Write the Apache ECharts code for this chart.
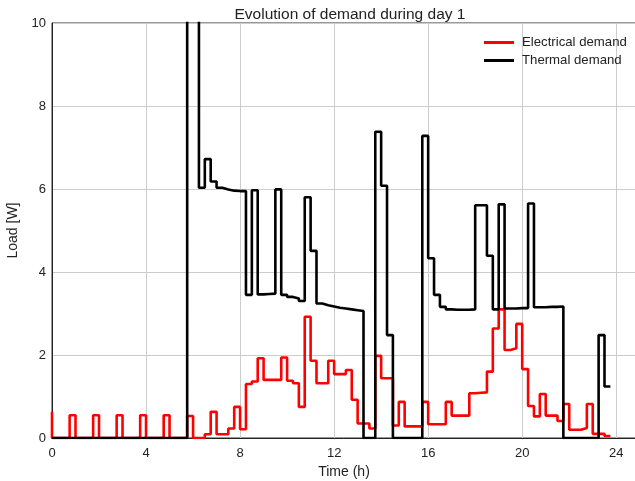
<!DOCTYPE html>
<html>
<head>
<meta charset="utf-8">
<script src="https://cdn.jsdelivr.net/npm/echarts@6/dist/echarts.min.js"></script>
<style>html,body{margin:0;padding:0;background:#fff}#c{width:635px;height:481px}</style>
</head>
<body>
<div id="c"></div>
<script>
const timeStep = 0.25; // hours between samples
const electrical = [
  0.63, 0, 0, 0, 0.55, 0, 0, 0, 0.55, 0, 0, 0, 0.55, 0, 0, 0,
  0.55, 0, 0, 0, 0.55, 0, 0, 0, 0.53, 0, 0, 0.09, 0.63, 0.09, 0.09, 0.23,
  0.75, 0.21, 1.30, 1.36, 1.92, 1.40, 1.40, 1.40, 1.94, 1.38, 1.32, 0.75, 2.92, 1.86, 1.32, 1.32,
  1.86, 1.54, 1.54, 1.64, 0.92, 0.35, 0.35, 0.23, 1.98, 1.44, 1.44, 0.30, 0.87, 0.28, 0.28, 0.28,
  0.87, 0.33, 0.33, 0.33, 0.87, 0.54, 0.54, 0.54, 1.08, 1.09, 1.10, 1.60, 2.64, 3.10, 2.12, 2.16,
  2.75, 1.66, 0.77, 0.52, 1.06, 0.54, 0.54, 0.41, 0.82, 0.20, 0.20, 0.24, 0.82, 0.10, 0.10, 0.05
];
const thermal = [
  0, 0, 0, 0, 0, 0, 0, 0, 0, 0, 0, 0, 0, 0, 0, 0,
  0, 0, 0, 0, 0, 0, 0, 0, 12, 12, 6.03, 6.72, 6.18, 6.03, 5.99, 5.96,
  5.95, 5.95, 3.45, 5.97, 3.46, 3.47, 3.48, 5.99, 3.45, 3.40, 3.36, 3.30, 5.80, 4.51, 3.24, 3.20,
  3.17, 3.14, 3.12, 3.10, 3.08, 3.06, 0, 0, 7.38, 6.08, 2.48, 0, 0, 0, 0, 0,
  7.28, 4.33, 3.45, 3.16, 3.10, 3.09, 3.09, 3.09, 3.10, 5.61, 5.61, 4.39, 3.10, 5.63, 3.12, 3.12,
  3.13, 3.13, 5.65, 3.15, 3.15, 3.16, 3.16, 3.17, 0, 0, 0, 0, 0, 0, 2.48, 1.24
];
const seriesNames = ['Electrical demand', 'Thermal demand'];
const xTicks = [0, 4, 8, 12, 16, 20, 24];
const yTicks = [0, 2, 4, 6, 8, 10];

const times = electrical.map((_, i) => i * timeStep);
const toPairs = arr => arr.map((v, i) => [times[i], v]);

const chart = echarts.init(document.getElementById('c'), null, {renderer: 'canvas'});
const font = 'Liberation Sans, Arial, sans-serif';
chart.setOption({
  animation: false,
  backgroundColor: '#fff',
  title: {
    text: 'Evolution of demand during day 1',
    left: 345, top: 2, textAlign: 'center',
    textStyle: {fontFamily: font, fontSize: 15.5, fontWeight: 'normal', color: '#222'}
  },
  legend: {
    data: seriesNames,
    orient: 'vertical',
    left: 479, top: 31,
    itemWidth: 30, itemHeight: 3, itemGap: 5,
    icon: 'rect',
    textStyle: {fontFamily: font, fontSize: 13.2, color: '#222', padding: [0, 0, 0, 3]}
  },
  grid: {left: 52, top: 23, right: -1, bottom: 43, show: true, borderColor: '#333', borderWidth: 1,
    containLabel: false, outerBoundsMode: 'none'},
  xAxis: {
    type: 'value', min: 0, max: 24.84, interval: 4,
    name: 'Time (h)', nameLocation: 'middle', nameGap: 26,
    nameTextStyle: {fontFamily: font, fontSize: 14, color: '#222'},
    axisLine: {lineStyle: {color: '#222', width: 1}},
    axisTick: {show: false},
    axisLabel: {fontFamily: font, fontSize: 13, color: '#222', margin: 9,
      formatter: v => xTicks.includes(v) ? String(v) : ''},
    splitLine: {show: true, lineStyle: {color: '#ccc', width: 1}}
  },
  yAxis: {
    type: 'value', min: 0, max: 10, interval: 2,
    name: 'Load [W]', nameLocation: 'middle', nameGap: 30,
    nameTextStyle: {fontFamily: font, fontSize: 14, color: '#222'},
    axisLine: {show: true, lineStyle: {color: '#222', width: 1}},
    axisTick: {show: false},
    axisLabel: {fontFamily: font, fontSize: 13, color: '#222', margin: 6,
      formatter: v => yTicks.includes(v) ? String(v) : ''},
    splitLine: {show: true, lineStyle: {color: '#ccc', width: 1}}
  },
  series: [
    {
      name: seriesNames[0], type: 'line', step: 'start', data: toPairs(electrical),
      showSymbol: false, clip: true, color: '#ff0000',
      lineStyle: {color: '#ff0000', width: 2.6}
    },
    {
      name: seriesNames[1], type: 'line', step: 'start', data: toPairs(thermal),
      showSymbol: false, clip: true, color: '#000000',
      lineStyle: {color: '#000000', width: 2.6}
    }
  ]
});
</script>
</body>
</html>
